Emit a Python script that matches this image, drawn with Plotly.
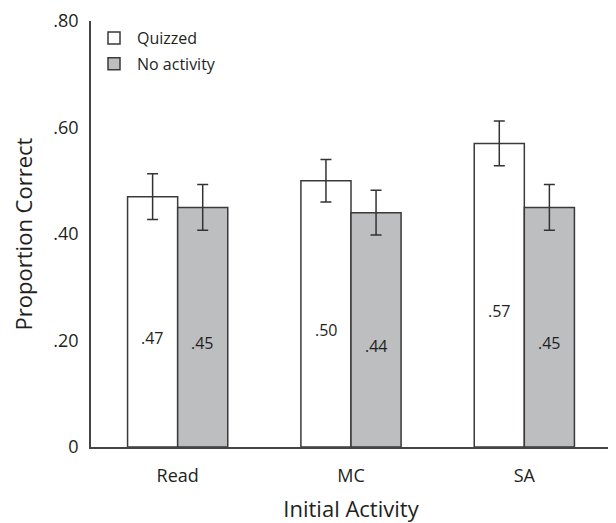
import plotly.graph_objects as go

categories = ["Read", "MC", "SA"]
quizzed = [0.47, 0.50, 0.57]
no_activity = [0.45, 0.44, 0.45]
quizzed_err = [0.043, 0.040, 0.042]
no_activity_err = [0.043, 0.042, 0.043]
quizzed_labels = [".47", ".50", ".57"]
no_activity_labels = [".45", ".44", ".45"]
y_tickvals = [0, 0.2, 0.4, 0.6, 0.8]
y_ticktext = ["0", ".20", ".40", ".60", ".80"]

FONT = "Open Sans"
TXT = "#231f20"
EDGE = "#3a3a3a"

fig = go.Figure()
fig.add_trace(go.Bar(
    name="Quizzed", x=categories, y=quizzed,
    marker=dict(color="white", line=dict(color=EDGE, width=1.5)),
    error_y=dict(type="data", array=quizzed_err, color="#333333", thickness=1.5, width=5.5),
    offsetgroup="q", legendgroup="q",
))
fig.add_trace(go.Bar(
    name="No activity", x=categories, y=no_activity,
    marker=dict(color="#bcbec0", line=dict(color=EDGE, width=1.5)),
    error_y=dict(type="data", array=no_activity_err, color="#333333", thickness=1.5, width=5.5),
    offsetgroup="n", legendgroup="n",
))

# value labels inside bars (near the middle of each bar)
for i, c in enumerate(categories):
    fig.add_annotation(x=i, xshift=-25, y=quizzed[i] / 2, yshift=-16, text=quizzed_labels[i],
                       showarrow=False, font=dict(family=FONT, size=16, color=TXT))
    fig.add_annotation(x=i, xshift=25, y=no_activity[i] / 2, yshift=-16, text=no_activity_labels[i],
                       showarrow=False, font=dict(family=FONT, size=16, color=TXT))

fig.update_layout(
    width=608, height=515,
    margin=dict(l=83, r=5, t=13, b=76, autoexpand=False),
    paper_bgcolor="white", plot_bgcolor="white",
    barmode="group", bargap=0.422, bargroupgap=0,
    font=dict(family=FONT, color=TXT),
    showlegend=True,
    legend=dict(x=0.0, y=1.0, xanchor="left", yanchor="top",
                font=dict(family=FONT, size=16, color=TXT),
                bgcolor="rgba(0,0,0,0)", borderwidth=0,
                traceorder="grouped", tracegroupgap=2, itemwidth=36),
    xaxis=dict(
        range=[-0.5, 2.5], showline=True, linecolor="#444444", linewidth=1.5,
        ticks="", showgrid=False, zeroline=False,
        tickfont=dict(family=FONT, size=18, color=TXT), ticklabelstandoff=12,
        title=dict(text="Initial Activity", font=dict(family=FONT, size=22, color=TXT), standoff=19),
    ),
    yaxis=dict(
        range=[0, 0.8], showline=True, linecolor="#444444", linewidth=1.5,
        ticks="", showgrid=False, zeroline=False,
        tickvals=y_tickvals, ticktext=y_ticktext, ticklabeloverflow="allow",
        tickfont=dict(family=FONT, size=18, color=TXT), ticklabelstandoff=7,
        title=dict(text="Proportion Correct", font=dict(family=FONT, size=22, color=TXT), standoff=20),
    ),
)

fig.write_html("out.html")
